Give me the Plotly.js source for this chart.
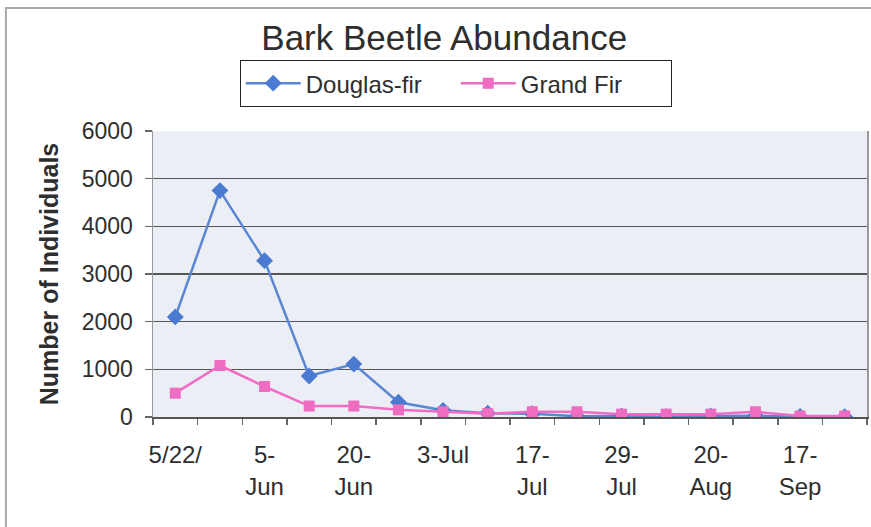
<!DOCTYPE html>
<html>
<head>
<meta charset="utf-8">
<script src="https://cdn.plot.ly/plotly-3.0.1.min.js"></script>
<style>
  html, body { margin: 0; padding: 0; background: #ffffff; }
  #chart { width: 871px; height: 527px; }
</style>
</head>
<body>
<div id="chart"></div>
<script>
// Sample positions (one per collection date, in order)
const sampleIndex = [0, 1, 2, 3, 4, 5, 6, 7, 8, 9, 10, 11, 12, 13, 14, 15];
// Tick labels shown on every other collection date
const tickPositions = [0, 2, 4, 6, 8, 10, 12, 14];
const tickLabels = ["5/22/", "5-<br>Jun", "20-<br>Jun", "3-Jul", "17-<br>Jul", "29-<br>Jul", "20-<br>Aug", "17-<br>Sep"];
// Series values (number of individuals)
const douglasFir = [2100, 4750, 3280, 860, 1110, 310, 140, 80, 70, 15, 20, 5, 20, 25, 10, 5];
const grandFir   = [500, 1080, 640, 230, 230, 150, 110, 70, 110, 110, 60, 60, 60, 110, 20, 20];

const textColor = "#2e2e2e";
const fontFam = "Liberation Sans, Arial, sans-serif";

const traces = [
  {
    x: sampleIndex, y: douglasFir, name: "Douglas-fir",
    type: "scatter", mode: "lines+markers",
    line: { color: "#5a86d2", width: 2.5 },
    marker: { symbol: "diamond", size: 13, color: "#4a7bd0" }
  },
  {
    x: sampleIndex, y: grandFir, name: "Grand Fir",
    type: "scatter", mode: "lines+markers",
    line: { color: "#f06cc4", width: 2.5 },
    marker: { symbol: "square", size: 11, color: "#ee6cc2" }
  }
];

const layout = {
  width: 871, height: 527,
  margin: { l: 153, r: 4, t: 131, b: 110 },
  paper_bgcolor: "#ffffff",
  plot_bgcolor: "#eceef6",
  font: { family: fontFam, color: textColor },
  title: {
    text: "Bark Beetle Abundance",
    font: { size: 35, family: fontFam, color: textColor },
    x: 0.51, xref: "container", xanchor: "center",
    y: 0.928, yref: "container", yanchor: "middle"
  },
  showlegend: true,
  legend: {
    orientation: "h",
    x: 0.424, xanchor: "center",
    y: 1.248, yanchor: "top",
    bordercolor: "#222222", borderwidth: 1,
    bgcolor: "#ffffff",
    font: { size: 24, family: fontFam, color: textColor },
    itemwidth: 55,
    entrywidth: 145
  },
  xaxis: {
    range: [-0.5, 15.5],
    tickmode: "array",
    tickvals: tickPositions,
    ticktext: tickLabels,
    ticks: "",
    tickfont: { size: 24, family: fontFam, color: textColor },
    showgrid: false,
    zeroline: false,
    showline: true, linecolor: "#555555", linewidth: 1.5,
    ticklabelstandoff: 16,
    minor: {
      tickmode: "array",
      tickvals: [-0.5, 0.5, 1.5, 2.5, 3.5, 4.5, 5.5, 6.5, 7.5, 8.5, 9.5, 10.5, 11.5, 12.5, 13.5, 14.5, 15.5],
      ticks: "outside", ticklen: 6, tickcolor: "#666666", tickwidth: 1.5,
      showgrid: false
    },
    fixedrange: true
  },
  yaxis: {
    range: [0, 6000],
    tickmode: "linear", dtick: 1000, tick0: 0,
    ticks: "outside", ticklen: 7, tickcolor: "#666666", tickwidth: 1.5,
    tickfont: { size: 23, family: fontFam, color: textColor },
    ticklabelstandoff: 7,
    showgrid: true, gridcolor: "#555555", gridwidth: 1.5,
    zeroline: false,
    showline: true, linecolor: "#999999", linewidth: 1.5, mirror: true,
    title: {
      text: "<b>Number of Individuals</b>",
      font: { size: 25, family: fontFam, color: textColor },
      standoff: 16
    },
    fixedrange: true
  },
  shapes: [
    {
      type: "rect", xref: "paper", yref: "paper",
      x0: -0.206, x1: 1.3, y0: -1.0, y1: 1.43,
      line: { color: "#a8aaa8", width: 2 },
      fillcolor: "rgba(0,0,0,0)", layer: "below"
    }
  ]
};

Plotly.newPlot("chart", traces, layout, { displayModeBar: false, staticPlot: true });
</script>
</body>
</html>
